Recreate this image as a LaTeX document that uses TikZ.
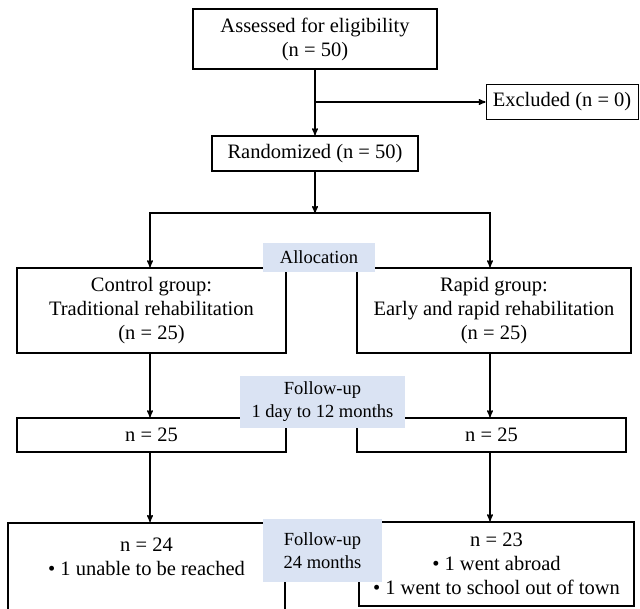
\documentclass[tikz,border=0pt]{standalone}
\usepackage{fontspec}
\setmainfont{Liberation Serif}
\usetikzlibrary{arrows,positioning}
\definecolor{labelblue}{RGB}{218,227,243}

\begin{document}
\begin{tikzpicture}[x=1pt,y=-1pt,>=stealth',
  box/.style={draw,line width=1.6pt,align=center,inner sep=0pt,font=\fontsize{20.5}{24}\selectfont},
  thinbox/.style={box,line width=0.8pt},
  tag/.style={fill=labelblue,align=center,inner sep=0pt,font=\fontsize{18.5}{23}\selectfont},
  link/.style={->,line width=1.4pt}]
\useasboundingbox (0,0) rectangle (640,608);
			\node[box,minimum width=244pt,minimum height=60pt] (assess) at (315,39) {Assessed for eligibility\\(n = 50)};
			\node[thinbox,minimum width=152pt,minimum height=35pt] (excl) at (562,102) {Excluded (n = 0)};
			\node[box,minimum width=206pt,minimum height=35pt] (rand) at (315,153.5) {Randomized (n = 50)};
			\node[box,minimum width=269pt,minimum height=85pt] (ctrl) at (151.5,310.5) {Control group:\\Traditional rehabilitation\\(n = 25)};
			\node[box,minimum width=274pt,minimum height=85pt] (rapid) at (494,310.5) {Rapid group:\\Early and rapid rehabilitation\\(n = 25)};
			\node[box,minimum width=269pt,minimum height=34pt] (ctrl_fu) at (151.5,435) {n = 25};
			\node[box,minimum width=269pt,minimum height=34pt] (rapid_fu) at (491.5,435) {n = 25};
			\node[box,minimum width=277pt,minimum height=92pt,anchor=north] (ctrl_end) at (146.5,522) {n = 24\\\textbullet\ 1 unable to be reached\\\mbox{}};
			\node[box,minimum width=275pt,minimum height=84pt] (rapid_end) at (496.5,564) {n = 23\\\textbullet\ 1 went abroad\\\textbullet\ 1 went to school out of town};
			% stage labels over the box corners
			\node[tag,minimum width=112pt,minimum height=29pt] (alloc) at (319,257.5) {Allocation};
			\node[tag,minimum width=165pt,minimum height=52pt] (fu_12) at (322.5,402) {Follow-up\\1 day to 12 months};
			\node[tag,minimum width=119pt,minimum height=63pt] (fu_24) at (322.5,550.5) {Follow-up\\24 months};
			\coordinate (branch) at (assess.south |- excl);
			\coordinate (split) at (315,213);
			\coordinate (lft) at (150,213);
			\coordinate (rgt) at (490,213);
			\draw[link] (assess) -- (rand);
			\draw[link] (branch) -- (excl);
			\draw[link] (rand) -- (split);
			\draw[link,<->] (lft |- ctrl.north) -- (lft) -- (rgt) -- (rgt |- rapid.north);
			\draw[link] (lft |- ctrl.south) -- (lft |- ctrl_fu.north);
			\draw[link] (rgt |- rapid.south) -- (rgt |- rapid_fu.north);
			\draw[link] (lft |- ctrl_fu.south) -- (lft |- ctrl_end.north);
			\draw[link] (rgt |- rapid_fu.south) -- (rgt |- rapid_end.north);
\end{tikzpicture}
\end{document}
